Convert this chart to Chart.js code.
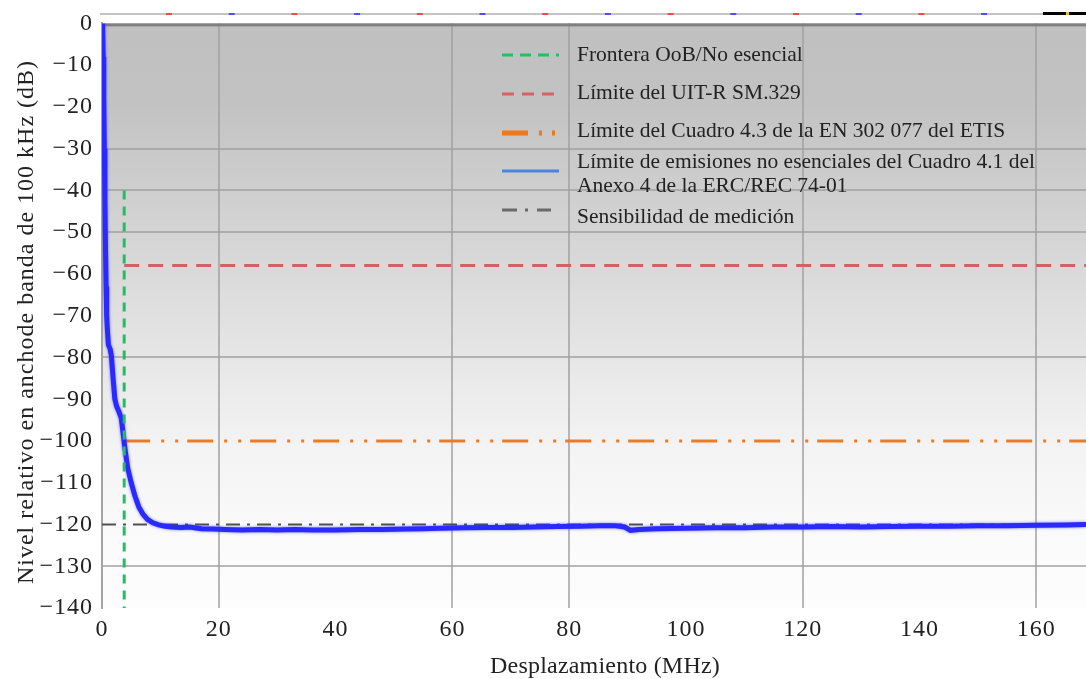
<!DOCTYPE html>
<html lang="es">
<head>
<meta charset="UTF-8">
<title>Nivel relativo frente a desplazamiento</title>
<script src="https://cdn.jsdelivr.net/npm/chart.js"></script>
<style>
    html, body { margin: 0; padding: 0; background: #ffffff; }
    #wrap { width: 1086px; height: 679px; position: relative; }
</style>
</head>
<body>
<div id="wrap"><canvas id="chart" width="1086" height="679"></canvas></div>
<script>
// axes
const xTicks = [0, 20, 40, 60, 80, 100, 120, 140, 160];
const yTicks = [0, -10, -20, -30, -40, -50, -60, -70, -80, -90, -100, -110, -120, -130, -140];
const xMax = 168.5;
const xGridShown = [20, 60, 80, 120, 160];
const yGridShown = [-30, -40, -50, -80, -130];
const xTitle = 'Desplazamiento (MHz)';
const yTitle = 'Nivel relativo en anchode banda de 100 kHz (dB)';

// limits (dB)
const oobX = 3.8;
const oobTop = -40;
const sm329Level = -58;
const etisLevel = -100;
const sensitivityLevel = -120;

// measured spectrum
const blueX = [0.1, 0.2, 0.3, 0.4, 0.5, 0.6, 0.7, 0.8, 0.95, 1.1, 1.4, 1.6, 1.9, 2.2, 2.5, 2.9, 3.3, 3.6, 3.9,
    4.4, 5.0, 5.6, 6.3, 7.0, 7.8, 8.7, 9.7, 10.8, 12, 13.5, 15, 17, 19, 21, 24, 27, 30, 33, 36, 40, 44, 48,
    52, 55, 58, 62, 66, 70, 74, 78, 82, 85, 88, 89.5, 90.5, 92, 95, 100, 105, 110, 115, 120, 125, 130, 135,
    140, 145, 150, 155, 160, 165, 168.5];
const blueY = [0, -8, -18, -30, -42, -54, -63, -70, -74, -77, -78, -79.5, -85, -90, -91.7, -93, -94.5, -98, -101.5,
    -106.5, -110, -113, -115.8, -117.5, -118.8, -119.6, -120.1, -120.4, -120.6, -120.7, -120.6, -121, -121.1, -121.2, -121.3, -121.2, -121.3, -121.2, -121.3, -121.3, -121.2, -121.2,
    -121.1, -121.0, -120.9, -120.8, -120.7, -120.7, -120.6, -120.5, -120.4, -120.3, -120.3, -120.6, -121.4, -121.2, -121.0, -120.9, -120.8, -120.8, -120.6, -120.6, -120.5, -120.6, -120.5,
    -120.4, -120.4, -120.3, -120.3, -120.2, -120.1, -120.0];

const legendLabels = [
    ['Frontera OoB/No esencial'],
    ['Límite del UIT-R SM.329'],
    ['Límite del Cuadro 4.3 de la EN 302 077 del ETIS'],
    ['Límite de emisiones no esenciales del Cuadro 4.1 del', 'Anexo 4 de la ERC/REC 74-01'],
    ['Sensibilidad de medición']
];

const FONT = '"Liberation Serif", "Times New Roman", serif';
const TEXT = '#222222';

const fmt = v => (v < 0 ? '\u2212' + Math.abs(v) : String(v));
const pts = (xs, ys) => xs.map((x, i) => ({ x: x, y: ys[i] }));

// gradient fill, selected grid lines, frame strip, axis titles
const backdrop = {
    id: 'backdrop',
    beforeDraw(chart) {
        const { ctx, chartArea: a } = chart;
        const g = ctx.createLinearGradient(0, a.top, 0, a.bottom);
        g.addColorStop(0, '#c0c0c0');
        g.addColorStop(0.13, '#c2c2c2');
        g.addColorStop(0.42, '#d9d9d9');
        g.addColorStop(0.58, '#e7e7e7');
        g.addColorStop(0.72, '#f3f3f3');
        g.addColorStop(0.87, '#fafafa');
        g.addColorStop(1, '#fdfdfd');
        ctx.save();
        ctx.fillStyle = g;
        ctx.fillRect(a.left, a.top, a.right - a.left, a.bottom - a.top);
        ctx.restore();
        // slight tracking for the tick labels
        ctx.letterSpacing = '1px';
    },
    beforeDatasetsDraw(chart) {
        const { ctx, chartArea: a, scales } = chart;
        ctx.save();
        ctx.letterSpacing = '0px';
        ctx.strokeStyle = 'rgba(160,160,160,0.75)';
        ctx.lineWidth = 2;
        xGridShown.forEach(v => {
            const px = Math.round(scales.x.getPixelForValue(v));
            ctx.beginPath();
            ctx.moveTo(px, a.top);
            ctx.lineTo(px, a.bottom);
            ctx.stroke();
        });
        yGridShown.forEach(v => {
            const py = Math.round(scales.y.getPixelForValue(v));
            ctx.beginPath();
            ctx.moveTo(a.left, py);
            ctx.lineTo(a.right, py);
            ctx.stroke();
        });
        ctx.fillStyle = '#808080';
        ctx.fillRect(a.left, a.top, a.right - a.left, 3);
        ctx.restore();
    },
    afterDraw(chart) {
        const { ctx, chartArea: a } = chart;
        ctx.save();
        ctx.letterSpacing = '0px';
        ctx.fillStyle = '#c4c4c4';
        ctx.fillRect(a.left - 2, 13, a.right - a.left + 2, 2);
        let red = true;
        for (let x = 166; x < 1030; x += 62.7) {
            ctx.fillStyle = red ? '#e05050' : '#5050e8';
            ctx.fillRect(x, 13, 6, 2);
            red = !red;
        }
        ctx.fillStyle = '#000000';
        ctx.fillRect(1043, 12, 43, 3);
        ctx.fillStyle = '#e8c020';
        ctx.fillRect(1066, 12, 3, 3);

        ctx.fillStyle = TEXT;
        ctx.font = '24px ' + FONT;
        ctx.textAlign = 'center';
        ctx.textBaseline = 'middle';
        ctx.letterSpacing = '0.2px';
        ctx.fillText(xTitle, 605, 667);
        ctx.translate(27, 322);
        ctx.rotate(-Math.PI / 2);
        ctx.letterSpacing = '1px';
        ctx.fillText(yTitle, 0, 0);
        ctx.restore();
        ctx.letterSpacing = '0px';
    }
};

// soft edge on the measured trace
const traceGlow = {
    id: 'traceGlow',
    beforeDatasetDraw(chart, args) {
        if (args.index !== 0) return;
        const ctx = chart.ctx;
        ctx.save();
        ctx.shadowColor = 'rgba(60,60,255,0.7)';
        ctx.shadowBlur = 3;
    },
    afterDatasetDraw(chart, args) {
        if (args.index !== 0) return;
        chart.ctx.restore();
    }
};

// key drawn inside the plot
const keyBox = {
    id: 'keyBox',
    afterDraw(chart) {
        const ctx = chart.ctx;
        const samples = [
            { y: 55, color: '#22c063', width: 3, dash: [11, 7] },
            { y: 94, color: '#d46464', width: 3, dash: [12, 8] },
            { y: 133, color: '#f07818', width: 5, dash: [26, 11, 3, 10, 3, 30] },
            { y: 171, color: '#4a84e0', width: 3, dash: [] },
            { y: 210, color: '#6a6a6a', width: 3, dash: [15, 8, 3, 9, 14, 20] }
        ];
        const rows = [[55], [93], [131], [162, 186], [217]];
        ctx.save();
        ctx.letterSpacing = '0px';
        samples.forEach(s => {
            ctx.beginPath();
            ctx.strokeStyle = s.color;
            ctx.lineWidth = s.width;
            ctx.setLineDash(s.dash);
            ctx.moveTo(502, s.y);
            ctx.lineTo(559, s.y);
            ctx.stroke();
        });
        ctx.setLineDash([]);
        ctx.fillStyle = TEXT;
        ctx.font = '21.5px ' + FONT;
        ctx.textAlign = 'left';
        ctx.textBaseline = 'middle';
        legendLabels.forEach((lines, i) => {
            lines.forEach((t, j) => ctx.fillText(t, 577, rows[i][j]));
        });
        ctx.restore();
    }
};

const ctx = document.getElementById('chart').getContext('2d');
new Chart(ctx, {
    type: 'line',
    data: {
        datasets: [
            {
                label: legendLabels[3].join(' '),
                data: pts(blueX, blueY),
                borderColor: '#2a2aff',
                borderWidth: 5,
                order: 2
            },
            {
                label: legendLabels[0][0],
                data: [{ x: oobX, y: oobTop }, { x: oobX, y: yTicks[yTicks.length - 1] }],
                borderColor: '#1fc062',
                borderWidth: 3,
                borderDash: [9, 7],
                order: 0
            },
            {
                label: legendLabels[4][0],
                data: [{ x: 0, y: sensitivityLevel }, { x: xMax, y: sensitivityLevel }],
                borderColor: '#505050',
                borderWidth: 2,
                borderDash: [14, 7, 3, 7],
                order: 3
            },
            {
                label: legendLabels[1][0],
                data: [{ x: oobX, y: sm329Level }, { x: xMax, y: sm329Level }],
                borderColor: '#cc6464',
                borderWidth: 3,
                borderDash: [15, 9],
                order: 4
            },
            {
                label: legendLabels[2][0],
                data: [{ x: oobX, y: etisLevel }, { x: xMax, y: etisLevel }],
                borderColor: '#f07a20',
                borderWidth: 3,
                borderDash: [26, 11, 3, 11, 3, 9],
                order: 5
            }
        ]
    },
    options: {
        responsive: false,
        animation: false,
        events: [],
        layout: { padding: { top: 20, right: 0, left: 0, bottom: 0 } },
        elements: {
            point: { radius: 0 },
            line: { tension: 0, fill: false, borderCapStyle: 'butt' }
        },
        plugins: {
            legend: { display: false },
            tooltip: { enabled: false }
        },
        scales: {
            x: {
                type: 'linear',
                min: 0,
                max: xMax,
                afterBuildTicks: s => { s.ticks = xTicks.map(v => ({ value: v })); },
                afterFit: s => { s.height = 71; },
                border: { display: false },
                grid: { drawTicks: false, color: 'rgba(0,0,0,0)' },
                ticks: {
                    padding: 7,
                    color: TEXT,
                    maxRotation: 0,
                    font: { family: FONT, size: 24 },
                    callback: v => fmt(v)
                }
            },
            y: {
                type: 'linear',
                min: -140,
                max: 0,
                afterBuildTicks: s => { s.ticks = yTicks.map(v => ({ value: v })); },
                afterFit: s => { s.width = 102; },
                border: { display: true, color: '#a4a4a4', width: 2 },
                grid: { drawTicks: false, color: 'rgba(0,0,0,0)' },
                ticks: {
                    padding: 9,
                    color: TEXT,
                    font: { family: FONT, size: 24 },
                    callback: v => fmt(v)
                }
            }
        }
    },
    plugins: [backdrop, traceGlow, keyBox]
});
</script>
</body>
</html>
